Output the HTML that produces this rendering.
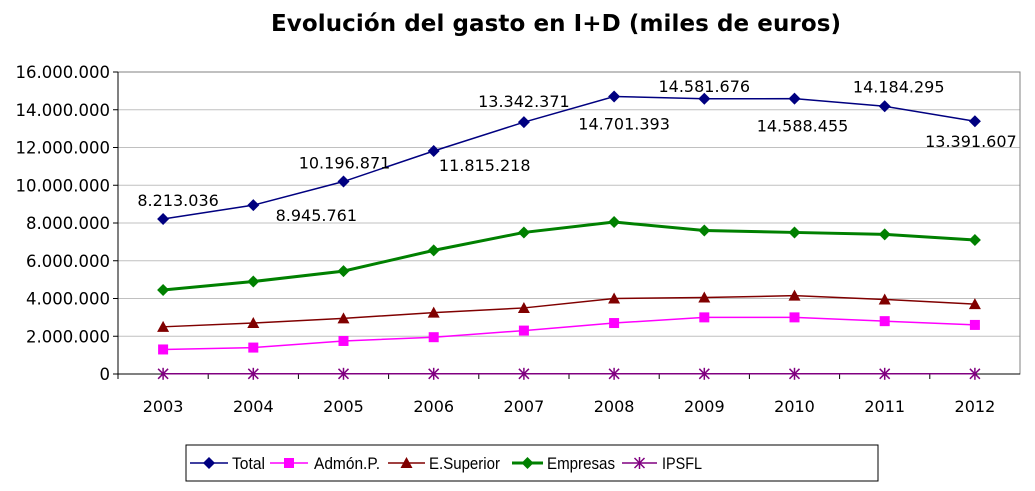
<!DOCTYPE html>
<html><head><meta charset="utf-8"><style>
body{margin:0;background:#fff;}
svg{display:block;font-family:"DejaVu Sans",Verdana,sans-serif;}
</style></head><body>
<svg id="c" width="1035" height="491">
<text x="556" y="31" text-anchor="middle" font-size="23" font-weight="bold" textLength="570">Evolución del gasto en I+D (miles de euros)</text>
<g id="grid"></g><g id="axes"></g><g id="series"></g><g id="legend"></g>
</svg>
<script>
const years=["2003","2004","2005","2006","2007","2008","2009","2010","2011","2012"];
const total=[8213036,8945761,10196871,11815218,13342371,14701393,14581676,14588455,14184295,13391607];
const admon=[1300000,1400000,1750000,1950000,2300000,2700000,3000000,3000000,2800000,2600000];
const esup=[2500000,2700000,2950000,3250000,3500000,4000000,4050000,4150000,3950000,3700000];
const empresas=[4450000,4900000,5450000,6550000,7500000,8050000,7600000,7500000,7400000,7100000];
const ipsfl=[10000,10000,10000,10000,10000,10000,10000,10000,10000,10000];
const yTicks=[0,2000000,4000000,6000000,8000000,10000000,12000000,14000000,16000000];
const yTickLabels=["0","2.000.000","4.000.000","6.000.000","8.000.000","10.000.000","12.000.000","14.000.000","16.000.000"];
const totalLabels=["8.213.036","8.945.761","10.196.871","11.815.218","13.342.371","14.701.393","14.581.676","14.588.455","14.184.295","13.391.607"];
const NS="http://www.w3.org/2000/svg";
const L=118,R=1020,T=72,B=374;
const bw=(R-L)/years.length;
const X=i=>L+bw*(i+0.5);
const Y=v=>B-(v/16000000)*(B-T);
function mk(tag,attrs,parent){const e=document.createElementNS(NS,tag);for(const k in attrs)e.setAttribute(k,attrs[k]);parent.appendChild(e);return e;}
const grid=document.getElementById('grid'),axes=document.getElementById('axes'),ser=document.getElementById('series'),leg=document.getElementById('legend');
yTicks.forEach((t,i)=>{
  if(t>0){const g=mk('line',{x1:L,x2:R,y1:Y(t),y2:Y(t),stroke:'#c0c0c0','stroke-width':1},grid);
  
  }
  const tx=mk('text',{x:L-8,y:Y(t)+6,'text-anchor':'end','font-size':16.5},axes);tx.textContent=yTickLabels[i];
  
  
  mk('line',{x1:L-5,x2:L,y1:Y(t),y2:Y(t),stroke:'#000'},axes);
});
mk('rect',{x:L,y:T,width:R-L,height:B-T,fill:'none',stroke:'#808080'},grid);
mk('line',{x1:L,x2:L,y1:T,y2:B,stroke:'#000'},axes);
mk('line',{x1:L,x2:R,y1:B,y2:B,stroke:'#000'},axes);
years.forEach((y,i)=>{
  mk('line',{x1:L+bw*i,x2:L+bw*i,y1:B,y2:B+5,stroke:'#000'},axes);
  const tx=mk('text',{x:X(i),y:B+38,'text-anchor':'middle','font-size':16},axes);tx.textContent=y;
  
  
});
function marker(type,x,y,color,p){
  if(type==='diamond')return mk('polygon',{points:`${x},${y-6} ${x+6},${y} ${x},${y+6} ${x-6},${y}`,fill:color},p);
  if(type==='square')return mk('rect',{x:x-5,y:y-5,width:10,height:10,fill:color},p);
  if(type==='triangle')return mk('polygon',{points:`${x},${y-6} ${x+6},${y+5} ${x-6},${y+5}`,fill:color},p);
  const g=mk('g',{stroke:color,'stroke-width':1.5},p);
  mk('line',{x1:x-5,y1:y-5,x2:x+5,y2:y+5},g);mk('line',{x1:x-5,y1:y+5,x2:x+5,y2:y-5},g);mk('line',{x1:x,y1:y-6,x2:x,y2:y+6},g);
  return g;
}
const seriesDefs=[
 {name:'Total',data:total,color:'#000080',w:1.5,m:'diamond'},
 {name:'Admón.P.',data:admon,color:'#ff00ff',w:1.5,m:'square'},
 {name:'E.Superior',data:esup,color:'#800000',w:1.5,m:'triangle'},
 {name:'Empresas',data:empresas,color:'#008000',w:3,m:'diamond'},
 {name:'IPSFL',data:ipsfl,color:'#800080',w:1.5,m:'star'}];
seriesDefs.forEach(s=>{
  const g=mk('g',{},ser);
  
  
  mk('polyline',{points:s.data.map((v,i)=>X(i)+','+Y(v)).join(' '),fill:'none',stroke:s.color,'stroke-width':s.w},g);
  s.data.forEach((v,i)=>{const m=marker(s.m,X(i),Y(v),s.color,g);
    
    });
});
const ldx=[15,63,1,51,0,10,0,8,14,-4], ldy=[-13,16,-13,20,-15,33,-7,33,-14,26];
totalLabels.forEach((t,i)=>{
  const tx=mk('text',{x:X(i)+ldx[i],y:Y(total[i])+ldy[i],'text-anchor':'middle','font-size':16},ser);tx.textContent=t;
  
  
});
mk('rect',{x:186,y:445,width:692,height:36,fill:'#fff',stroke:'#000'},leg);
const lineX=[[190,228],[270,308],[388,425],[512,543],[622,657]];
const textX=[[230,33],[312,66],[427,71],[545,68],[660,40]];
seriesDefs.forEach((s,i)=>{
  const g=mk('g',{},leg);
  
  
  mk('line',{x1:lineX[i][0],x2:lineX[i][1],y1:463,y2:463,stroke:s.color,'stroke-width':s.w},g);
  marker(s.m,(lineX[i][0]+lineX[i][1])/2,463,s.color,g);
  const tx=mk('text',{x:textX[i][0]+2,y:469,'font-size':17,textLength:textX[i][1],lengthAdjust:'spacingAndGlyphs','font-family':'"Liberation Sans Narrow","Liberation Sans",sans-serif'},g);tx.textContent=s.name;
});
</script>
</body></html>
